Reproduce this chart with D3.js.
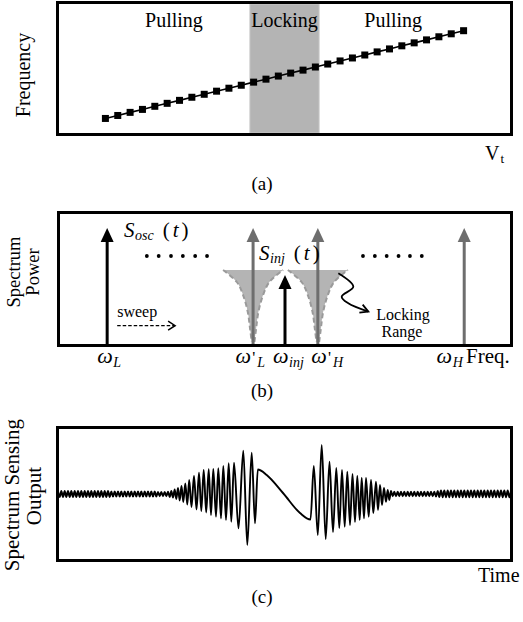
<!DOCTYPE html>
<html>
<head>
<meta charset="utf-8">
<script src="https://cdn.jsdelivr.net/npm/d3@7"></script>
<style>
  html, body { margin: 0; padding: 0; background: #fff; }
  svg text { font-family: "Liberation Serif", "Times New Roman", serif; fill: #000; }
</style>
</head>
<body>
<svg id="fig" width="523" height="622"></svg>
<script>
// ---------- (a) oscillator tuning curve ----------
const vtSteps = [1, 2, 3, 4, 5, 6, 7, 8, 9, 10, 11, 12, 13, 14, 15,
                 16, 17, 18, 19, 20, 21, 22, 23, 24, 25, 26, 27, 28, 29, 30];
const freqValues = [0.130, 0.152, 0.175, 0.197, 0.220, 0.242, 0.264, 0.287, 0.309, 0.332,
                    0.354, 0.376, 0.399, 0.421, 0.444, 0.466, 0.488, 0.511, 0.533, 0.556,
                    0.578, 0.600, 0.623, 0.645, 0.668, 0.690, 0.712, 0.735, 0.757, 0.780];
const lockingBand = [12.7, 18.3];            // Vt range where the oscillator is locked
const regionNames = ["Pulling", "Locking", "Pulling"];
const regionVt = [6.55, 15.5, 24.3];

// ---------- (b) spectrum ----------
const toneNames = ["L", "'L", "inj", "'H", "H"];
const toneFreq = [11, 43, 50, 57.2, 89.3];
const tonePower = [0.875, 0.875, 0.53, 0.875, 0.875];
const toneSource = ["osc", "pulled", "inj", "pulled", "pulled"];
const lockCenters = [43, 57.2];
// locking-range edge: half width (freq units) against power
const lockHalfWidth = [6.58, 3.57, 2.19, 1.16, 0.66, 0.29];
const lockPower = [0.566, 0.478, 0.382, 0.257, 0.135, 0.037];
const dotsLeft = [19.7, 22.3, 25.0, 27.6, 30.3, 32.9];
const dotsRight = [67.1, 69.7, 72.3, 74.9, 77.4, 80.0];
const dotsPower = 0.669;
const sweepFrom = [13.2, 0.157], sweepTo = [25.9, 0.157];
const pointerPath = [[61.7, 0.542], [64.98, 0.443], [62.43, 0.37], [63.88, 0.321], [68.27, 0.26]];

// ---------- (c) spectrum sensing output: extrema of the beat signal [time, output] ----------
const sensing = [
  [2.0,3],[3.7,-3],[5.3,3],[7.0,-3],[8.7,3],[10.3,-3],[12.0,3],[13.7,-3],[15.3,3],[17.0,-3],
  [18.7,3],[20.3,-3],[22.0,3],[23.7,-3],[25.3,3],[27.0,-3],[28.7,3],[30.3,-3],[32.0,3],[33.7,-3],
  [35.3,3],[37.0,-3],[38.7,3],[40.3,-3],[42.0,3],[43.7,-3],[45.3,3],[47.0,-3],[48.7,3],[50.3,-3],
  [52.0,3],[53.7,-3],[55.3,2.5],[57.0,-2.5],[58.7,2.5],[60.3,-2.5],[62.0,2.5],[63.7,-2.5],[65.3,2.5],[67.0,-2.5],
  [68.7,2.5],[70.3,-2.5],[72.0,2.5],[73.7,-2.5],[75.3,2.5],[77.0,-2.5],[78.7,2.5],[80.3,-2.5],[82.0,2.5],[83.7,-2.5],
  [85.3,2.5],[87.0,-2.5],[88.7,2.5],[90.3,-2.5],[92.0,2.5],[93.7,-2.5],[95.3,2.5],[97.0,-2.5],[98.7,2.5],[100.3,-2.5],
  [102.0,2],[103.7,-2.2],[105.3,2],[107.0,-2.2],[108.7,2],[110.3,-2.2],[112.0,2.3],
  [113.7,-3],[115.3,3],[117.0,-3.5],[118.7,4.5],[120.3,-5],[122.0,6],[123.7,-6.5],[125.5,8],
  [127.3,-8],[129.3,10.5],[131.3,-10.5],[133.2,14],[135.5,-13],[138.0,18],[140.5,-15.5],[143.0,21.3],
  [145.3,-17],[147.7,24],[150.2,-18.5],[152.7,24.7],[155.0,-21],[157.3,25],[160.0,-22.7],[162.3,25.7],
  [165.0,-24.3],[167.3,28],[170.0,-26],[172.7,30.7],[175.3,-27.7],[178.0,31.3],[182.5,-34.3],
  [187.3,43.3],[191.3,-51],[195.7,41.3],[199.0,-29.3],[201.8,24.5],
  [210.7,19],[227.0,1],[244.0,-19],[254.5,-25.5],
  [257.8,28],[261.8,-41],[265.7,49],[269.7,-45],[273.5,32.3],[277.0,-38],[280.3,26],[283.3,-34],
  [286.0,24],[288.7,-32.7],[291.3,22.3],[294.0,-31],[296.5,20],[299.0,-28],[301.3,18],[303.7,-26],
  [305.7,16],[308.0,-24.3],[310.0,16],[312.7,-22.7],[315.0,14],[317.3,-19],[320.0,12.3],[322.0,-16],
  [324.0,9],[326.0,-11],[328.0,6],[330.0,-7.7],[331.7,4],[333.3,-6],[335.0,3],
  [336.7,-2.2],[338.3,2.2],[340.0,-2.2],[341.7,2.2],[343.3,-2.2],[345.0,2.2],[346.7,-2.2],[348.3,2.2],[350.0,-2.2],[351.7,2.2],
  [353.3,-2.2],[355.0,2.2],[356.7,-2.2],[358.3,2.2],[360.0,-2.2],[361.7,2.2],[363.3,-2.2],[365.0,2.2],[366.7,-2.2],[368.3,2.2],
  [370.0,-2.2],[371.7,2.2],[373.3,-2.2],[375.0,2.2],[376.7,-2.2],[378.3,2.2],[380.0,-2.5],[381.7,3],[383.3,-3],[385.0,3.5],
  [386.7,-3.2],[388.3,3.5],[390.0,-3.2],[391.7,3.5],[393.3,-3.2],[395.0,3.5],[396.7,-3.2],[398.3,3.5],[400.0,-3.2],[401.7,3.5],
  [403.3,-3.2],[405.0,3.5],[406.7,-3.2],[408.3,3.5],[410.0,-3.2],[411.7,3.5],[413.3,-3.2],[415.0,3.5],[416.7,-3.2],[418.3,3.5],
  [420.0,-3.2],[421.7,3.5],[423.3,-3.2],[425.0,3.5],[426.7,-3.2],[428.3,3.5],[430.0,-3.2],[431.7,3.5],[433.3,-3.2],[435.0,3.5],
  [436.7,-3.2],[438.3,3.5],[440.0,-3.2],[441.7,3.5],[443.3,-3.2],[445.0,3.5],[446.7,-3.2],[448.3,3.5],[450.0,-3.2],[451.7,3.5],
  [453.3,-3.2],[455.0,3.5]
];

// ---------- layout ----------
const svg = d3.select("#fig");
svg.append("rect").attr("width", 523).attr("height", 622).attr("fill", "#fff");
const BORDER = 3;
const panelA = { x0: 56, x1: 513, y0: 1, y1: 136 };
const panelB = { x0: 57, x1: 513, y0: 211, y1: 347 };
const panelC = { x0: 56, x1: 513, y0: 426, y1: 562 };
const GRAY_TONE = "#6e6e6e", CONE_FILL = "#b4b4b4", CONE_EDGE = "#9a9a9a";

function frame(p) {
  svg.append("rect")
    .attr("x", p.x0 + BORDER / 2).attr("y", p.y0 + BORDER / 2)
    .attr("width", p.x1 - p.x0 - BORDER).attr("height", p.y1 - p.y0 - BORDER)
    .attr("fill", "none").attr("stroke", "#000").attr("stroke-width", BORDER);
}

// Write a run of text pieces (italic / subscript) as tspans.
function mathText(g, x, y, parts, size) {
  const t = g.append("text").attr("x", x).attr("y", y).attr("font-size", size);
  parts.forEach(p => {
    const s = t.append("tspan").text(p.t);
    if (p.it) s.attr("font-style", "italic");
    if (p.fs) s.attr("font-size", p.fs);
    if (p.dy) s.attr("dy", p.dy);
    if (p.dx) s.attr("dx", p.dx);
  });
  return t;
}

function vLabel(x, y, str, size) {
  svg.append("text").attr("transform", `translate(${x},${y}) rotate(-90)`)
    .attr("text-anchor", "middle").attr("font-size", size).text(str);
}

// ================= (a) =================
const xa = d3.scaleLinear().domain([-3, 34]).range([panelA.x0, panelA.x1]);
const ya = d3.scaleLinear().domain([0, 1]).range([panelA.y1, panelA.y0]);

svg.append("rect")
  .attr("x", xa(lockingBand[0])).attr("y", panelA.y0 + BORDER)
  .attr("width", xa(lockingBand[1]) - xa(lockingBand[0]))
  .attr("height", panelA.y1 - panelA.y0 - 2 * BORDER)
  .attr("fill", CONE_FILL).attr("stroke", "#c8c8c8").attr("stroke-width", 1);

const tuning = vtSteps.map((v, i) => [v, freqValues[i]]);
svg.append("path").datum(tuning)
  .attr("d", d3.line().x(d => xa(d[0])).y(d => ya(d[1])))
  .attr("fill", "none").attr("stroke", "#000").attr("stroke-width", 1.6);
svg.selectAll("rect.mk").data(tuning).enter().append("rect").attr("class", "mk")
  .attr("x", d => xa(d[0]) - 3.5).attr("y", d => ya(d[1]) - 3.5)
  .attr("width", 7).attr("height", 7).attr("fill", "#000");

regionNames.forEach((n, i) => {
  svg.append("text").attr("x", xa(regionVt[i])).attr("y", 27)
    .attr("text-anchor", "middle").attr("font-size", 20).text(n);
});
frame(panelA);
vLabel(30, 75, "Frequency", 20);
mathText(svg, 485, 160, [{ t: "V" }, { t: "t", fs: 13, dy: 3, dx: 1 }], 20);
svg.append("text").attr("x", 262).attr("y", 190).attr("text-anchor", "middle").attr("font-size", 19).text("(a)");

// ================= (b) =================
const xb = d3.scaleLinear().domain([0, 100]).range([panelB.x0, panelB.x1]);
const yb = d3.scaleLinear().domain([0, 1]).range([panelB.y1, panelB.y0]);

// locking-range cones around the pulled tones
const edgeLine = d3.line().x(d => xb(d[0])).y(d => yb(d[1])).curve(d3.curveCatmullRom);
lockCenters.forEach(c => {
  const left = lockHalfWidth.map((w, i) => [c - w, lockPower[i]]);
  const right = lockHalfWidth.map((w, i) => [c + w, lockPower[i]]).reverse();
  svg.append("path")
    .attr("d", edgeLine(left) + "L" + edgeLine(right).slice(1) + "Z")
    .attr("fill", CONE_FILL).attr("stroke", "none");
  [left, right].forEach(side => {
    svg.append("path").attr("d", edgeLine(side))
      .attr("fill", "none").attr("stroke", CONE_EDGE).attr("stroke-width", 2)
      .attr("stroke-dasharray", "5,3");
  });
});

// spectral lines with arrowheads
const HEAD_H = 14, HEAD_W = 6.5;
toneFreq.forEach((f, i) => {
  const col = toneSource[i] === "pulled" ? GRAY_TONE : "#000";
  const x = xb(f), tip = yb(tonePower[i]);
  svg.append("line").attr("x1", x).attr("x2", x)
    .attr("y1", panelB.y1 - BORDER).attr("y2", tip + HEAD_H - 1)
    .attr("stroke", col).attr("stroke-width", 3);
  svg.append("path")
    .attr("d", `M${x},${tip}L${x + HEAD_W},${tip + HEAD_H}L${x - HEAD_W},${tip + HEAD_H}Z`)
    .attr("fill", col);
});

// ellipsis dots between tones
[dotsLeft, dotsRight].forEach(set => {
  svg.selectAll(null).data(set).enter().append("circle")
    .attr("cx", d => xb(d)).attr("cy", yb(dotsPower)).attr("r", 1.9).attr("fill", "#000");
});

// sweep arrow
svg.append("text").attr("x", xb(sweepFrom[0])).attr("y", 317).attr("font-size", 16).text("sweep");
svg.append("line")
  .attr("x1", xb(sweepFrom[0])).attr("y1", yb(sweepFrom[1]))
  .attr("x2", xb(sweepTo[0]) - 1).attr("y2", yb(sweepTo[1]))
  .attr("stroke", "#000").attr("stroke-width", 1.4).attr("stroke-dasharray", "3.5,2");
{
  const ax = xb(sweepTo[0]), ay = yb(sweepTo[1]);
  svg.append("path").attr("d", `M${ax - 7},${ay - 4.5}L${ax},${ay}L${ax - 7},${ay + 4.5}`)
    .attr("fill", "none").attr("stroke", "#000").attr("stroke-width", 1.5);
}

// pointer to the locking range
svg.append("path").datum(pointerPath)
  .attr("d", d3.line().x(d => xb(d[0])).y(d => yb(d[1])).curve(d3.curveCatmullRom.alpha(0.5)))
  .attr("fill", "none").attr("stroke", "#000").attr("stroke-width", 1.8);
{
  const e = pointerPath[pointerPath.length - 1], p = pointerPath[pointerPath.length - 2];
  const ex = xb(e[0]), ey = yb(e[1]);
  const ang = Math.atan2(ey - yb(p[1]), ex - xb(p[0]));
  const L = 9, spread = 0.5;
  const a1 = [ex - L * Math.cos(ang - spread), ey - L * Math.sin(ang - spread)];
  const a2 = [ex - L * Math.cos(ang + spread), ey - L * Math.sin(ang + spread)];
  svg.append("path").attr("d", `M${a1}L${ex},${ey}L${a2}`)
    .attr("fill", "none").attr("stroke", "#000").attr("stroke-width", 1.8);
}
svg.append("text").attr("x", 403).attr("y", 320).attr("text-anchor", "middle").attr("font-size", 16).text("Locking");
svg.append("text").attr("x", 402).attr("y", 337).attr("text-anchor", "middle").attr("font-size", 16).text("Range");

// signal labels
mathText(svg, 124, 237, [
  { t: "S", it: true }, { t: "osc", it: true, fs: 14, dy: 3, dx: 0.5 },
  { t: "(", dy: -3, dx: 9 }, { t: "t", it: true, dx: 3 }, { t: ")", dx: 3 }
], 21);
mathText(svg, 259, 260, [
  { t: "S", it: true }, { t: "inj", it: true, fs: 14, dy: 3, dx: 0.5 },
  { t: "(", dy: -3, dx: 9 }, { t: "t", it: true, dx: 3 }, { t: ")", dx: 3 }
], 21);

// frequency labels beneath the tones
const toneLabelDx = [-10, -17.5, -12, -6.5, -27.6];
toneNames.forEach((n, i) => {
  const x = xb(toneFreq[i]) + toneLabelDx[i];
  const prime = n.startsWith("'");
  const sub = prime ? n.slice(1) : n;
  const parts = [{ t: "\u03c9", it: true }];
  if (prime) parts.push({ t: "'", fs: 17, dx: 1 });
  parts.push({ t: sub, it: true, fs: 14, dy: 4, dx: prime ? 2 : 0.5 });
  mathText(svg, x, 363, parts, 22);
});
svg.append("text").attr("x", 466).attr("y", 363).attr("font-size", 21).text("Freq.");

frame(panelB);
vLabel(20, 272, "Spectrum", 18.5);
vLabel(39, 272, "Power", 18.5);
svg.append("text").attr("x", 262).attr("y", 397).attr("text-anchor", "middle").attr("font-size", 19).text("(b)");

// ================= (c) =================
const xc = d3.scaleLinear().domain([0, 457]).range([panelC.x0, panelC.x1]);
const yc = d3.scaleLinear().domain([-68, 68]).range([panelC.y1, panelC.y0]);
svg.append("defs").append("clipPath").attr("id", "clipC").append("rect")
  .attr("x", panelC.x0 + BORDER).attr("y", panelC.y0 + BORDER)
  .attr("width", panelC.x1 - panelC.x0 - 2 * BORDER).attr("height", panelC.y1 - panelC.y0 - 2 * BORDER);
svg.append("path").datum(sensing)
  .attr("clip-path", "url(#clipC)")
  .attr("d", d3.line().x(d => xc(d[0])).y(d => yc(d[1])).curve(d3.curveMonotoneX))
  .attr("fill", "none").attr("stroke", "#000").attr("stroke-width", 1.9).attr("stroke-linejoin", "round");
frame(panelC);
vLabel(19, 495, "Spectrum Sensing", 21);
vLabel(40.5, 496, "Output", 21);
svg.append("text").attr("x", 478).attr("y", 582).attr("font-size", 20).text("Time");
svg.append("text").attr("x", 262).attr("y", 603).attr("text-anchor", "middle").attr("font-size", 19).text("(c)");
</script>
</body>
</html>
